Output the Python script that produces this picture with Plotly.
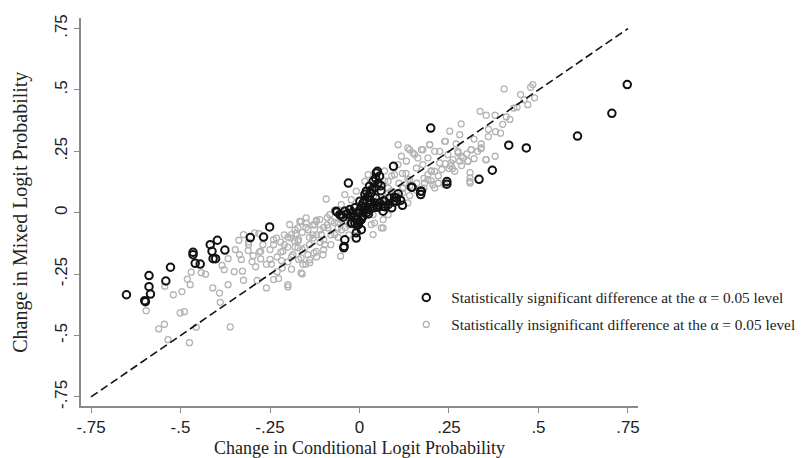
import plotly.graph_objects as go

# Statistically significant differences (black)
sig_x = [-0.651, -0.600, -0.598, -0.584, -0.588, -0.588, -0.541, -0.528, -0.465, -0.465,
         -0.459, -0.445, -0.417, -0.412, -0.397, -0.409, -0.402, -0.376, -0.305, -0.268,
         -0.251,
         -0.031, 0.050, 0.047, 0.095, 0.147, 0.171, 0.171, 0.244, 0.244, 0.334, 0.098,
         0.103, 0.072, -0.063, -0.051, -0.046, -0.021, -0.006, 0.007, 0.005, -0.009,
         -0.009, -0.041, -0.044, -0.043,
         0.748, 0.705, 0.609, 0.466, 0.417, 0.371, 0.199, 0.145,
         0.052, 0.042, 0.033, 0.024, 0.015, 0.010, 0.005, 0.001, 0.019, 0.028, 0.038,
         0.056, -0.013, -0.027, -0.041, -0.055, -0.065, -0.004, 0.010, 0.024, 0.038,
         0.052, 0.066, 0.080, 0.094, 0.103, 0.108, 0.084, 0.070, 0.056, 0.042, 0.028,
         0.015, -0.023, -0.009, -0.013, -0.023, -0.004, 0.005, 0.010, 0.066, 0.173,
         0.020, 0.030, 0.045, 0.060, 0.035, 0.000, -0.020, -0.035, 0.015, 0.060, 0.045,
         0.030, 0.050, 0.090, 0.120, 0.115, -0.015, 0.000, 0.025]
sig_y = [-0.334, -0.358, -0.362, -0.331, -0.301, -0.256, -0.278, -0.222, -0.161, -0.171,
         -0.206, -0.209, -0.130, -0.157, -0.112, -0.187, -0.187, -0.152, -0.101, -0.099,
         -0.058,
         0.121, 0.169, 0.162, 0.189, 0.104, 0.088, 0.074, 0.127, 0.116, 0.136, 0.063,
         0.047, 0.024, 0.003, -0.010, -0.018, -0.042, -0.051, -0.018, -0.069, -0.082,
         -0.103, -0.110, -0.143, -0.137,
         0.522, 0.405, 0.312, 0.264, 0.275, 0.173, 0.345, 0.104,
         0.121, 0.101, 0.081, 0.067, 0.053, 0.040, 0.026, 0.047, 0.088, 0.108, 0.128,
         0.149, 0.020, 0.013, 0.006, -0.008, 0.006, -0.001, 0.006, 0.013, 0.020,
         0.022, 0.026, 0.033, 0.044, 0.060, 0.077, 0.060, 0.047, 0.040, 0.040, 0.033,
         0.020, -0.014, -0.028, -0.042, -0.042, -0.048, -0.028, -0.014, 0.006, 0.088,
         0.000, 0.050, 0.060, 0.090, 0.095, 0.010, 0.000, -0.005, 0.075, 0.110, 0.140,
         0.020, 0.030, 0.020, 0.030, 0.050, -0.020, -0.035, -0.005]

# Statistically insignificant differences (gray)
ins_x = [-0.596, -0.561, -0.545, -0.535, -0.475, -0.456, -0.361, -0.501, -0.489, -0.544,
         -0.520, -0.496, -0.481, -0.473, -0.470, -0.442, -0.410, -0.389, -0.384, -0.378,
         -0.367, -0.367, -0.337, -0.347, -0.335, -0.327, -0.324, -0.311, -0.297, -0.293,
         -0.281, -0.276, -0.276, -0.260, -0.286, -0.240, -0.226, -0.232, -0.218, -0.214,
         -0.216, -0.200, -0.192, -0.178, -0.167, -0.160, -0.153, -0.144, -0.127, -0.121,
         -0.149, -0.172, -0.163, -0.139, -0.246, -0.391, -0.324,
         -0.190, -0.181, -0.172, -0.186, -0.163, -0.149, -0.144, -0.130, -0.125, -0.111,
         -0.107, -0.097, -0.088, -0.079, -0.083, -0.069, -0.060, -0.102, -0.158, -0.163,
         -0.200, -0.053, -0.121, -0.139, -0.172, -0.195, -0.093, -0.051, -0.041, -0.009,
         0.015, 0.024, 0.033, 0.042, 0.066, 0.066, 0.038, 0.080, 0.098, 0.108, 0.117,
         0.131, 0.135, 0.149, 0.163, 0.159, 0.173, 0.177, 0.191, 0.196, 0.201, 0.210,
         0.224, 0.230, 0.238, 0.247, 0.261, 0.275, 0.284, 0.303, 0.308, 0.312, 0.340,
         0.354, 0.135, 0.122, 0.089, 0.061, 0.070, 0.038, 0.015, -0.004, -0.023, -0.037,
         0.098, 0.080, 0.052, 0.140, 0.191, 0.210, 0.238, 0.266, 0.108, 0.135,
         0.404, 0.450, 0.478, 0.484, 0.489, 0.431, 0.337, 0.354, 0.379, 0.394, 0.339,
         0.353, 0.379, 0.309, 0.309, 0.284, 0.252, 0.280, 0.240, 0.312, 0.303, 0.289,
         0.275, 0.256, 0.254, 0.285, 0.224, 0.196, 0.177, 0.154, 0.140, 0.210, 0.191,
         0.205, 0.182, 0.309,
         -0.250, -0.220, -0.200, -0.180, -0.160, -0.140, -0.120, -0.100, -0.080, -0.060,
         -0.050, -0.030, -0.110, -0.130, -0.090, -0.070, -0.200, -0.230, -0.260, -0.280,
         -0.300, -0.190, -0.170, -0.150, -0.120, -0.100,
         0.100, 0.120, 0.140, 0.160, 0.180, 0.200, 0.220, 0.130, 0.070, 0.090, 0.110,
         0.020, 0.050, 0.080, 0.120, 0.070, 0.250, 0.270, 0.320, 0.330, 0.360, 0.400,
         0.420, 0.440, -0.430, -0.350, -0.310, -0.240, -0.210, -0.050, -0.030, -0.010,
         -0.330, -0.310, -0.290, -0.270, -0.250, -0.240, -0.230, -0.220, -0.210, -0.200,
         -0.190, -0.180, -0.170, -0.160, -0.150, -0.140, -0.130, -0.120, -0.110, -0.100,
         -0.090, -0.080, -0.070, -0.060, -0.050, -0.040, -0.030, -0.020, -0.010, 0.000,
         0.020, 0.040, 0.060, 0.080, 0.100, 0.120, 0.140, 0.160, 0.180, 0.200, 0.220,
         0.240, 0.260, 0.280, 0.300, 0.320, 0.340, 0.360, 0.380, 0.410, 0.460, 0.470]
ins_y = [-0.399, -0.473, -0.454, -0.517, -0.529, -0.466, -0.465, -0.408, -0.403, -0.299,
         -0.334, -0.321, -0.270, -0.293, -0.242, -0.244, -0.306, -0.365, -0.214, -0.232,
         -0.187, -0.293, -0.112, -0.150, -0.171, -0.238, -0.275, -0.154, -0.175, -0.082,
         -0.085, -0.157, -0.188, -0.306, -0.276, -0.272, -0.268, -0.103, -0.195, -0.157,
         -0.225, -0.302, -0.103, -0.085, -0.035, -0.249, -0.143, -0.171, -0.164, -0.035,
         -0.042, -0.116, -0.184, -0.204, -0.209, -0.327, -0.089,
         -0.089, -0.116, -0.143, -0.171, -0.035, -0.021, -0.069, -0.103, -0.048, -0.028,
         -0.089, -0.130, -0.062, -0.035, -0.008, -0.089, -0.062, -0.171, -0.211, -0.245,
         -0.293, -0.177, -0.157, -0.191, -0.062, -0.048, 0.056, 0.033, 0.074, 0.088,
         0.128, 0.155, -0.048, -0.042, -0.028, -0.062, -0.089, -0.008, 0.155, 0.196, 0.230,
         0.210, 0.264, 0.244, 0.223, 0.182, 0.257, 0.196, 0.223, 0.277, 0.169, 0.250,
         0.203, 0.176, 0.291, 0.237, 0.216, 0.244, 0.230, 0.210, 0.128, 0.257, 0.264,
         0.216, 0.040, 0.101, 0.088, -0.062, 0.040, -0.008, 0.020, -0.021, 0.053, 0.013,
         0.047, 0.128, 0.101, 0.135, 0.135, 0.101, 0.114, 0.169, 0.277, 0.137,
         0.504, 0.481, 0.511, 0.522, 0.468, 0.426, 0.413, 0.397, 0.397, 0.324, 0.261,
         0.216, 0.230, 0.142, 0.121, 0.362, 0.332, 0.318, 0.291, 0.257, 0.210, 0.223,
         0.250, 0.203, 0.190, 0.192, 0.250, 0.277, 0.257, 0.237, 0.257, 0.169, 0.155,
         0.114, 0.121, 0.163,
         -0.150, -0.120, -0.100, -0.140, -0.080, -0.100, -0.090, -0.060, -0.090, -0.040,
         -0.070, -0.050, -0.120, -0.050, -0.020, 0.010, -0.200, -0.180, -0.210, -0.160,
         -0.200, -0.230, -0.190, -0.210, -0.180, -0.150,
         0.080, 0.100, 0.070, 0.120, 0.100, 0.130, 0.150, 0.160, 0.130, 0.150, 0.120,
         0.090, 0.120, 0.100, 0.160, 0.170, 0.180, 0.280, 0.300, 0.250, 0.340, 0.360,
         0.380, 0.430, -0.250, -0.240, -0.130, -0.130, -0.130, -0.030, -0.020, -0.060,
         -0.190, -0.120, -0.220, -0.130, -0.190, -0.110, -0.240, -0.160, -0.090, -0.140,
         -0.180, -0.070, -0.110, -0.150, -0.060, -0.130, -0.090, -0.030, -0.070, -0.110,
         -0.050, -0.130, -0.040, -0.100, -0.020, -0.060, -0.090, -0.030, -0.070, -0.050,
         0.030, 0.070, 0.050, 0.080, 0.060, 0.080, 0.110, 0.090, 0.140, 0.170, 0.120,
         0.200, 0.180, 0.210, 0.240, 0.220, 0.280, 0.310, 0.330, 0.390, 0.460, 0.440]

line_x = [-0.75, 0.75]
line_y = [-0.75, 0.75]

tick_vals = [-0.75, -0.5, -0.25, 0, 0.25, 0.5, 0.75]
tick_text = ["-.75", "-.5", "-.25", "0", ".25", ".5", ".75"]

x_title = "Change in Conditional Logit Probability"
y_title = "Change in Mixed Logit Probability"
sig_label = "Statistically significant difference at the \u03b1 = 0.05 level"
ins_label = "Statistically insignificant difference at the \u03b1 = 0.05 level"

serif = "Liberation Serif, Times New Roman, serif"

fig = go.Figure()
fig.add_trace(go.Scatter(
    x=ins_x, y=ins_y, mode="markers", name=ins_label, legendrank=2,
    legendgroup="b",
    marker=dict(symbol="circle-open", size=6, color="#b3b3b3", line=dict(width=1.3, color="#b3b3b3")),
))
fig.add_trace(go.Scatter(
    x=line_x, y=line_y, mode="lines", showlegend=False,
    line=dict(color="#111111", width=1.6, dash="8px,4px"),
))
fig.add_trace(go.Scatter(
    x=sig_x, y=sig_y, mode="markers", name=sig_label, legendrank=1,
    legendgroup="a",
    marker=dict(symbol="circle-open", size=7.5, color="#111111", line=dict(width=2, color="#111111")),
))

axis_common = dict(
    tickvals=tick_vals, ticktext=tick_text, showgrid=False, zeroline=False,
    showline=True, linecolor="#8a8a8a", linewidth=1.5, ticks="outside",
    ticklen=5, tickcolor="#8a8a8a", tickwidth=1.2, automargin=False,
    tickfont=dict(family="Liberation Sans, Arial, sans-serif", size=17, color="#222222"),
)

fig.update_layout(
    width=803, height=458,
    margin=dict(l=73, r=173, t=10, b=60, autoexpand=False),
    paper_bgcolor="white", plot_bgcolor="white",
    xaxis=dict(range=[-0.778, 0.778], **axis_common),
    yaxis=dict(range=[-0.787, 0.793], tickangle=-90, **axis_common),
    legend=dict(x=0.575, y=0.322, xanchor="left", yanchor="top",
                font=dict(family=serif, size=15.3, color="#222222"),
                bgcolor="rgba(0,0,0,0)", tracegroupgap=4, traceorder="grouped",
                itemwidth=40),
    annotations=[
        dict(text=x_title, xref="paper", yref="paper", x=0.5, y=-0.108,
             xanchor="center", yanchor="middle", showarrow=False,
             font=dict(family=serif, size=18, color="#222222")),
        dict(text=y_title, xref="paper", yref="paper", x=-0.11, y=0.5,
             xanchor="center", yanchor="middle", showarrow=False, textangle=-90,
             font=dict(family=serif, size=20, color="#222222")),
    ],
)

fig.write_html("out.html")
